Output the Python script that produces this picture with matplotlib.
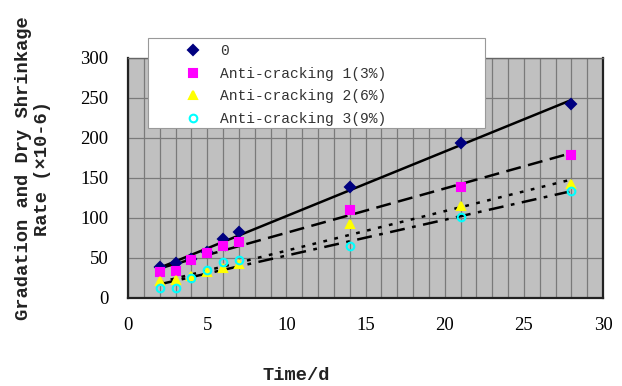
import numpy as np
import matplotlib
matplotlib.use("Agg")
import matplotlib.pyplot as plt
from matplotlib.ticker import MultipleLocator
from matplotlib.patches import Rectangle

days = [2, 3, 4, 5, 6, 7, 14, 21, 28]
s0 = [39, 44, 49, 57, 74, 82, 139, 194, 243]
s1 = [33, 34, 47, 56, 65, 70, 110, 139, 179]
s2 = [21, 22, 27, 33, 38, 42, 92, 115, 142]
s3 = [12, 12, 25, 35, 45, 48, 65, 101, 134]
labels = ["0", "Anti-cracking 1(3%)", "Anti-cracking 2(6%)", "Anti-cracking 3(9%)"]

fig = plt.figure(figsize=(6.22, 3.86), dpi=100)
ax = fig.add_axes([128/622, 1-298/386, (603-128)/622, (298-58)/386])
ax.set_facecolor("#c0c0c0")
ax.set_xlim(0, 30)
ax.set_ylim(0, 300)
ax.xaxis.set_major_locator(MultipleLocator(5))
ax.xaxis.set_minor_locator(MultipleLocator(1))
ax.yaxis.set_major_locator(MultipleLocator(50))
ax.grid(which="both", axis="x", color="#7a7a7a", lw=0.9)
ax.grid(which="major", axis="y", color="#7a7a7a", lw=0.9)
ax.set_axisbelow(True)
ax.tick_params(which="both", length=0, pad=14)
ax.tick_params(axis="both", labelsize=13.5)
for t in ax.get_xticklabels() + ax.get_yticklabels():
    t.set_fontfamily("Liberation Serif")
for sp in ax.spines.values():
    sp.set_color("#222222")
    sp.set_linewidth(1.6)
ax.spines["top"].set_color("#666666")
ax.spines["top"].set_linewidth(1.0)

x = np.array(days, dtype=float)
series = [s0, s1, s2, s3]
markers = ["D", "s", "^", "o"]
mfc = ["#000080", "#ff00ff", "#ffff00", "none"]
mec = ["#000080", "#ff00ff", "#ffff00", "#00ffff"]
msize = [5, 6, 6, 5.5]
styles = ["-", (0, (6, 3)), (0, (1.5, 3)), (0, (6, 3, 1.5, 3))]
handles = []
for s, m, fc, ec, ms, ls in zip(series, markers, mfc, mec, msize, styles):
    y = np.array(s, dtype=float)
    k, b = np.polyfit(x, y, 1)
    xx = np.array([x.min(), x.max()])
    ax.plot(xx, k*xx + b, color="black", lw=1.8, ls=ls, zorder=2)
    h, = ax.plot(x, y, ls="none", marker=m, markerfacecolor=fc, markeredgecolor=ec,
                 markersize=ms, markeredgewidth=1.5, zorder=3)
    handles.append(h)

# legend frame (drawn separately so its size matches the original box)
frame = Rectangle((148/622, 1-128/386), (485-148)/622, 90/386, transform=fig.transFigure,
                  facecolor="white", edgecolor="#999999", lw=0.8, zorder=9)
fig.patches.append(frame)

leg = fig.legend(handles, labels, loc="upper left",
                 bbox_to_anchor=(165/622, 1-40/386), frameon=False,
                 prop={"family": "Liberation Mono", "size": 10.5},
                 handletextpad=0.3, borderpad=0.3, labelspacing=0.58,
                 handlelength=3.2, borderaxespad=0)
leg.set_zorder(10)
for t in leg.get_texts():
    t.set_color("#333333")

fig.text(296/622, 1-375/386, "Time/d", ha="center", va="center",
         family="Liberation Mono", fontsize=13.5, fontweight="bold", color="#222222")
fig.text(33/622, 1-168/386, "Gradation and Dry Shrinkage\nRate (×10-6)", ha="center", va="center",
         rotation=90, family="Liberation Mono", fontsize=13.5, fontweight="bold",
         linespacing=1.15, color="#222222")

fig.savefig("out.png", dpi=100)
